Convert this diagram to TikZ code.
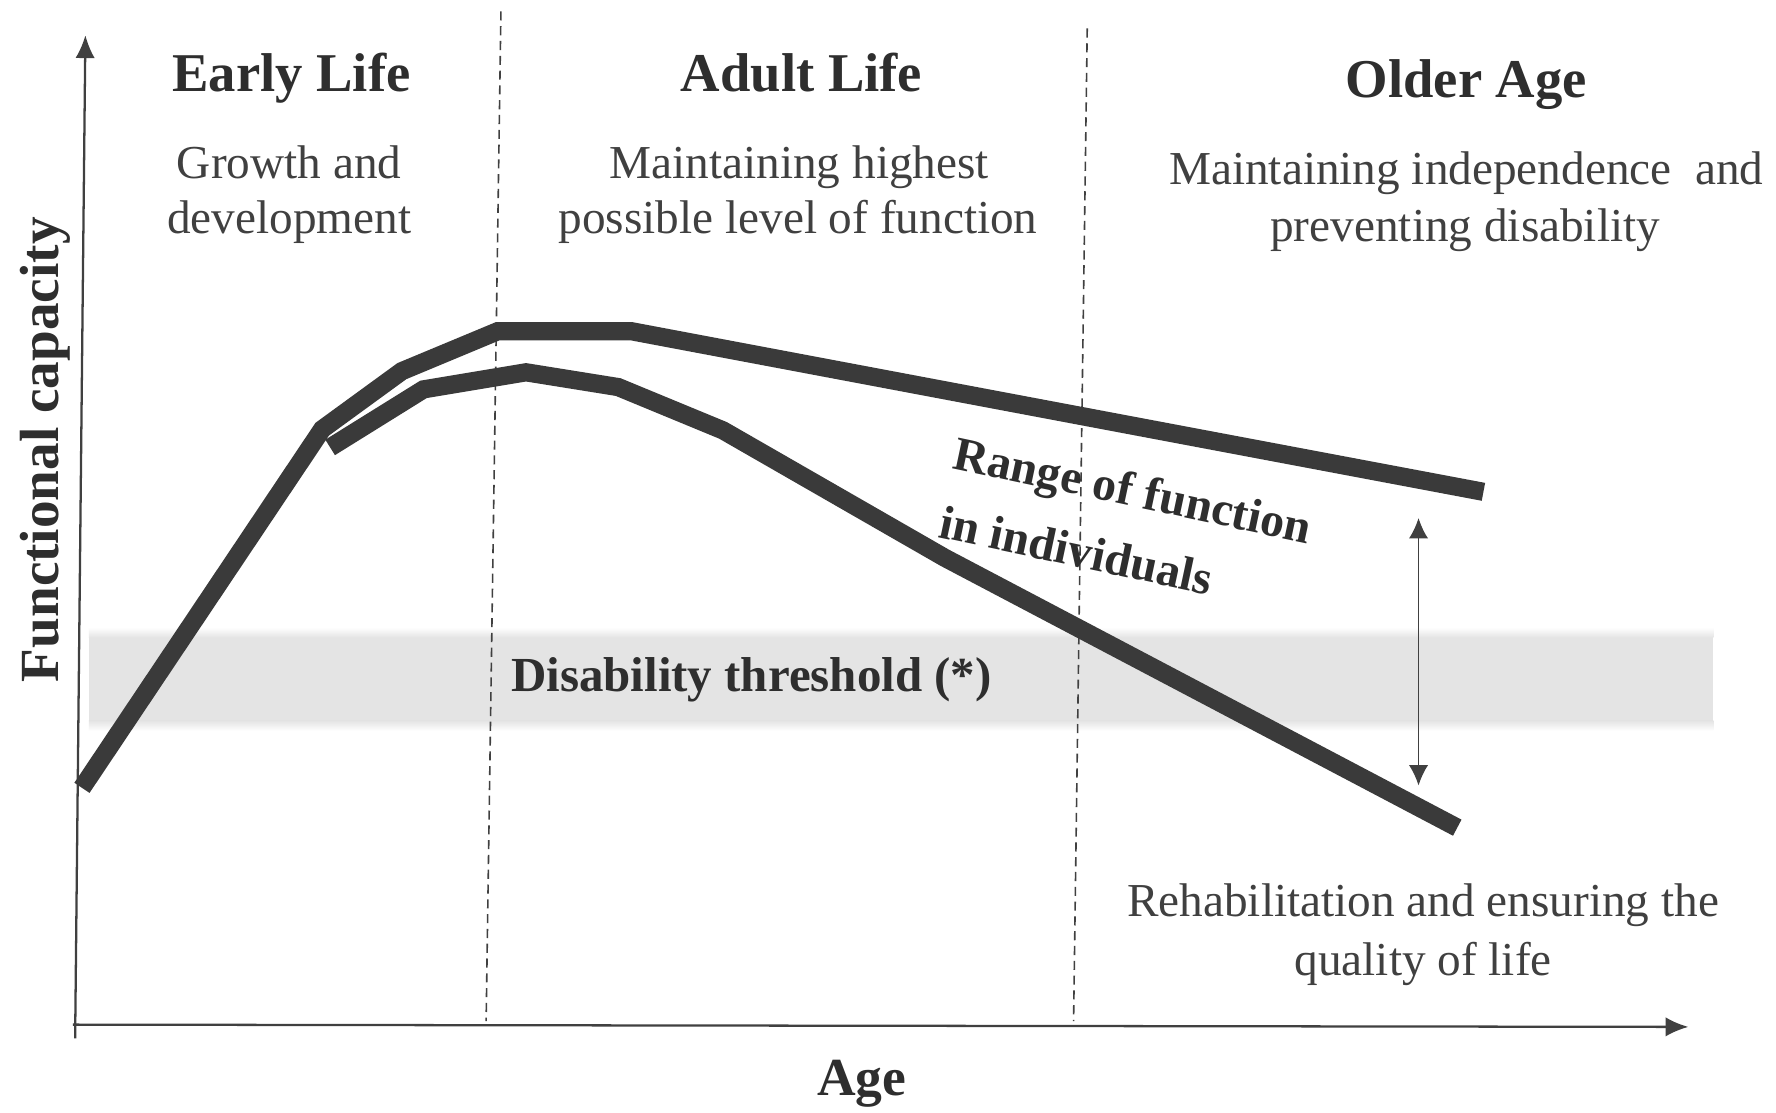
\documentclass[tikz,border=0pt]{standalone}
\usepackage{fontspec}
\setmainfont{Liberation Serif}
\usetikzlibrary{arrows.meta}
\definecolor{ink}{HTML}{2E2E2E}
\definecolor{softink}{HTML}{404040}
\definecolor{curve}{HTML}{3A3A3A}
\definecolor{band}{HTML}{E4E4E4}
\begin{document}
\begin{tikzpicture}[x=1pt,y=-1pt,
  head/.style={font=\fontsize{48}{56}\selectfont\bfseries, text=ink, anchor=base, inner sep=0pt},
  sub/.style={font=\fontsize{41.5}{48}\selectfont, text=softink, anchor=base, inner sep=0pt},
  lbl/.style={font=\fontsize{42}{50}\selectfont\bfseries, text=ink, anchor=base, inner sep=0pt},
  capline/.style={line width=16pt, draw=curve, line join=miter},
  divider/.style={draw=softink, line width=1.4pt, dash pattern=on 8pt off 5pt},
  axisline/.style={draw=softink, line width=2pt},
  tip/.style={-{Latex[length=20pt,width=17pt]}},
  twotip/.style={{Latex[length=18pt,width=17pt]}-{Latex[length=18pt,width=17pt]}},
]
\useasboundingbox (0,0) rectangle (1560,977);
\fill[white] (0,0) rectangle (1560,977);

% disability band
\fill[band] (78,560) rectangle (1505,633);
\shade[top color=white, bottom color=band] (78,551) rectangle (1505,560);
\shade[top color=band, bottom color=white] (78,633) rectangle (1505,642);

% period dividers
\draw[divider] (440,10) -- (427,897);
\draw[divider] (955,25) -- (943,897);

% axes
\coordinate (origin) at (66,912);
\coordinate (ytop) at (75,31);
\coordinate (xstart) at (64,900);
\coordinate (xend) at (1483,902);
\draw[axisline, tip] (origin) -- (ytop);
\draw[axisline, tip] (xstart) -- (xend);

% curves
\draw[capline] (72,692) -- (283,377) -- (353,326) -- (437,291) -- (555,291) -- (1303,432);
\draw[capline] (290,393) -- (372,342) -- (462,327) -- (543,340) -- (635,378) -- (830,490) -- (1280,727);

% range arrow
\coordinate (rtop) at (1246,455);
\coordinate (rbot) at (1246,690);
\draw[axisline, line width=1.6pt, twotip] (rtop) -- (rbot);

% headings
\node[head] (early) at (256,80) {Early Life};
\node[head] (adult) at (704,80) {Adult Life};
\node[head] (older) at (1288,86) {Older Age};

\node[sub] (early1) at (254,157) {Growth and};
\node[sub] (early2) at (254,205) {development};
\node[sub] (adult1) at (702,157) {Maintaining highest};
\node[sub] (adult2) at (701,205) {possible level of function};
\node[sub] (older1) at (1288,162) {Maintaining independence\ \ and};
\node[sub] (older2) at (1287,212) {preventing disability};

\node[sub] (rehab1) at (1250,805) {Rehabilitation and ensuring the};
\node[sub] (rehab2) at (1250,857) {quality of life};

\node[lbl, font=\fontsize{43}{50}\selectfont\bfseries] (thresh) at (660,607) {Disability threshold (*)};
\node[lbl, font=\fontsize{42}{62}\selectfont\bfseries, align=left, anchor=north west, rotate=-12] (range) at (842,382) {Range of function\\in individuals};

\node[head, font=\fontsize{48.5}{56}\selectfont\bfseries, rotate=90] (ylab) at (51,395) {Functional capacity};
\node[head, font=\fontsize{47}{54}\selectfont\bfseries] (xlab) at (757,962) {Age};
\end{tikzpicture}
\end{document}
